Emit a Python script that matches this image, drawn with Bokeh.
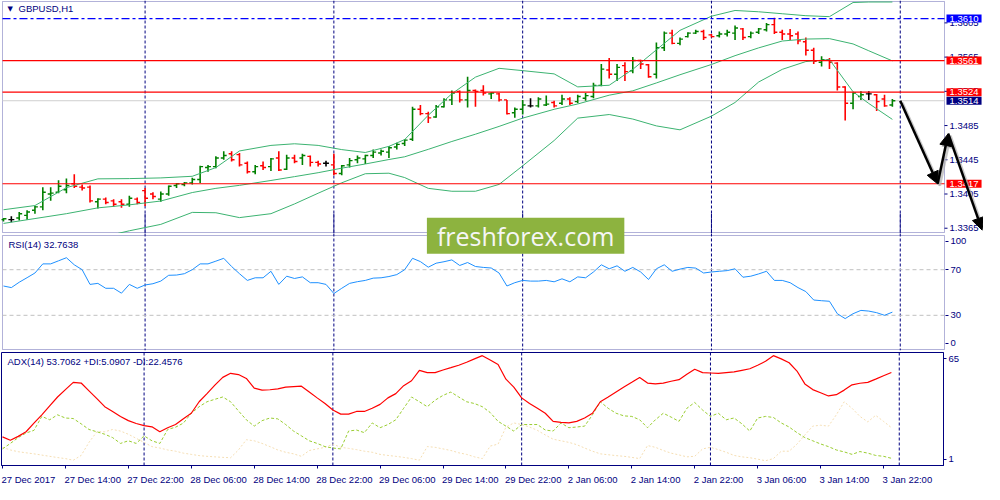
from bokeh.plotting import figure
from bokeh.models import (Range1d, FixedTicker, Span, Label, Arrow, NormalHead, BoxAnnotation,
                          ColumnDataSource, CustomJSTickFormatter)
from bokeh.layouts import column
from bokeh.transform import dodge
from bokeh.embed import file_html
from bokeh.resources import INLINE
from bokeh.core.properties import value

# ---------------- data (GBPUSD H1) ----------------
bar_open = [1.3375,1.3375,1.3377,1.3380,1.3386,1.3390,1.3405,1.3407,1.3410,1.3417,
            1.3413,1.3413,1.3396,1.3399,1.3397,1.3396,1.3393,1.3399,1.3409,1.3405,
            1.3399,1.3405,1.3415,1.3416,1.3418,1.3422,1.3436,1.3437,1.3447,1.3452,
            1.3451,1.3441,1.3431,1.3438,1.3437,1.3447,1.3434,1.3447,1.3447,1.3449,
            1.3442,1.3441,1.3439,1.3429,1.3439,1.3445,1.3446,1.3450,1.3453,1.3454,
            1.3460,1.3464,1.3469,1.3504,1.3499,1.3495,1.3507,1.3515,1.3525,1.3515,
            1.3526,1.3526,1.3522,1.3522,1.3515,1.3500,1.3504,1.3508,1.3508,1.3509,
            1.3512,1.3511,1.3516,1.3513,1.3517,1.3519,1.3532,1.3550,1.3545,1.3555,
            1.3549,1.3561,1.3556,1.3545,1.3576,1.3593,1.3581,1.3589,1.3593,1.3595,
            1.3591,1.3590,1.3592,1.3593,1.3598,1.3589,1.3594,1.3597,1.3603,1.3594,
            1.3592,1.3592,1.3583,1.3573,1.3559,1.3562,1.3558,1.3530,1.3511,1.3519,
            1.3522,1.3521,1.3516,1.3509]
bar_high = [1.3377,1.3379,1.3384,1.3386,1.3391,1.3413,1.3413,1.3421,1.3423,1.3428,
            1.3416,1.3415,1.3400,1.3401,1.3399,1.3399,1.3403,1.3401,1.3412,1.3407,
            1.3408,1.3415,1.3418,1.3419,1.3424,1.3438,1.3439,1.3449,1.3455,1.3455,
            1.3453,1.3443,1.3439,1.3443,1.3447,1.3455,1.3451,1.3451,1.3452,1.3450,
            1.3444,1.3444,1.3452,1.3439,1.3447,1.3450,1.3451,1.3457,1.3457,1.3461,
            1.3465,1.3469,1.3507,1.3509,1.3501,1.3509,1.3517,1.3526,1.3526,1.3542,
            1.3527,1.3532,1.3524,1.3523,1.3515,1.3506,1.3515,1.3517,1.3518,1.3520,
            1.3514,1.3521,1.3518,1.3521,1.3523,1.3535,1.3557,1.3564,1.3557,1.3559,
            1.3565,1.3562,1.3557,1.3582,1.3595,1.3597,1.3588,1.3594,1.3597,1.3597,
            1.3592,1.3595,1.3597,1.3602,1.3599,1.3595,1.3599,1.3605,1.3611,1.3597,
            1.3598,1.3595,1.3588,1.3576,1.3566,1.3564,1.3559,1.3531,1.3524,1.3525,
            1.3525,1.3522,1.3521,1.3516]
bar_low = [1.3373,1.3372,1.3374,1.3375,1.3382,1.3386,1.3397,1.3406,1.3406,1.3412,
           1.3409,1.3395,1.3388,1.3393,1.3390,1.3389,1.3390,1.3393,1.3391,1.3399,
           1.3396,1.3403,1.3412,1.3414,1.3416,1.3418,1.3431,1.3435,1.3445,1.3443,
           1.3437,1.3429,1.3428,1.3433,1.3432,1.3432,1.3433,1.3441,1.3439,1.3437,
           1.3437,1.3437,1.3427,1.3427,1.3436,1.3441,1.3440,1.3447,1.3450,1.3447,
           1.3457,1.3461,1.3467,1.3497,1.3488,1.3494,1.3506,1.3509,1.3512,1.3506,
           1.3507,1.3520,1.3516,1.3513,1.3498,1.3494,1.3498,1.3506,1.3506,1.3508,
           1.3506,1.3509,1.3509,1.3511,1.3514,1.3517,1.3531,1.3540,1.3537,1.3537,
           1.3546,1.3551,1.3541,1.3540,1.3572,1.3580,1.3579,1.3588,1.3592,1.3585,
           1.3588,1.3588,1.3589,1.3585,1.3585,1.3587,1.3592,1.3595,1.3592,1.3585,
           1.3585,1.3580,1.3567,1.3557,1.3554,1.3551,1.3526,1.3491,1.3504,1.3515,
           1.3515,1.3502,1.3507,1.3507]
bar_close = [1.3376,1.3375,1.3382,1.3384,1.3390,1.3407,1.3406,1.3414,1.3415,1.3414,
             1.3412,1.3397,1.3399,1.3395,1.3393,1.3393,1.3400,1.3395,1.3400,1.3402,
             1.3405,1.3414,1.3417,1.3418,1.3422,1.3437,1.3437,1.3447,1.3450,1.3445,
             1.3439,1.3431,1.3437,1.3436,1.3446,1.3433,1.3447,1.3443,1.3450,1.3442,
             1.3440,1.3441,1.3429,1.3438,1.3444,1.3447,1.3450,1.3454,1.3455,1.3459,
             1.3463,1.3468,1.3504,1.3499,1.3494,1.3507,1.3515,1.3523,1.3515,1.3526,
             1.3525,1.3523,1.3523,1.3515,1.3499,1.3504,1.3509,1.3508,1.3516,1.3510,
             1.3508,1.3516,1.3511,1.3519,1.3520,1.3532,1.3551,1.3545,1.3553,1.3548,
             1.3561,1.3557,1.3542,1.3576,1.3593,1.3581,1.3586,1.3593,1.3595,1.3588,
             1.3589,1.3592,1.3594,1.3599,1.3588,1.3593,1.3598,1.3603,1.3594,1.3592,
             1.3590,1.3584,1.3573,1.3560,1.3562,1.3559,1.3530,1.3511,1.3523,1.3521,
             1.3522,1.3513,1.3508,1.3514]

# Bollinger bands, read at these bar numbers
bb_index = [0,4,8,12,16,20,24,27,30,34,37,40,43,46,49,51,54,57,60,63,
            66,70,73,77,80,83,86,90,93,96,99,102,105,108,110,113]
bb_upper = [1.33866,1.33915,1.34124,1.34227,1.34230,1.34238,1.34257,1.34359,1.34553,1.34618,
            1.34637,1.34618,1.34569,1.34535,1.34607,1.34686,1.34971,1.35222,1.35416,1.35519,
            1.35492,1.35454,1.35302,1.35321,1.35507,1.35735,1.35963,1.36128,1.36195,1.36180,
            1.36157,1.36134,1.36123,1.36288,1.36294,1.36294]
bb_middle = [1.33706,1.33763,1.33820,1.33888,1.33923,1.33968,1.34067,1.34116,1.34151,1.34208,
             1.34253,1.34299,1.34352,1.34401,1.34453,1.34485,1.34572,1.34664,1.34749,1.34840,
             1.34937,1.35040,1.35102,1.35205,1.35256,1.35348,1.35444,1.35564,1.35667,1.35758,
             1.35838,1.35861,1.35866,1.35804,1.35724,1.35606]
bb_lower = [1.33307,1.33387,1.33455,1.33535,1.33620,1.33695,1.33835,1.33831,1.33774,1.33820,
            1.33934,1.34059,1.34181,1.34287,1.34293,1.34242,1.34116,1.34082,1.34082,1.34162,
            1.34379,1.34675,1.34937,1.34979,1.34926,1.34846,1.34800,1.34960,1.35120,1.35359,
            1.35507,1.35598,1.35621,1.35245,1.35108,1.34922]

rsi_values = [55.7,54.3,59.0,63.0,67.1,75.1,75.1,77.8,80.5,74.3,
              70.0,57.1,58.0,53.7,53.7,49.4,57.1,53.7,56.6,57.7,
              60.0,65.1,65.3,66.5,70.0,75.1,75.1,77.5,80.0,72.8,
              66.5,60.6,62.9,62.9,68.6,57.1,64.3,62.3,63.7,58.6,
              58.6,57.1,49.1,53.7,58.0,59.5,60.6,62.6,62.9,64.0,
              65.7,70.0,80.0,77.1,72.2,75.7,77.0,78.6,73.7,76.3,
              72.8,72.0,71.5,67.1,55.7,58.6,60.6,60.0,60.0,60.6,
              59.4,62.0,59.4,63.7,62.9,68.0,74.3,70.8,73.4,68.6,
              72.0,68.0,61.4,70.8,74.3,68.6,70.5,72.0,71.4,67.1,
              68.0,68.6,69.2,70.8,63.4,64.3,66.3,68.6,60.6,60.6,
              58.6,54.3,50.8,43.4,42.8,42.3,31.4,27.1,31.4,34.3,
              33.7,32.3,30.0,32.76]
adx_values = [17.2,15.3,17.5,20.1,25.0,29.7,34.8,39.8,44.0,48.1,
              47.7,43.3,38.9,34.3,31.6,28.8,26.4,24.8,23.6,22.9,
              20.1,22.4,24.2,27.5,30.6,37.1,41.7,46.5,50.9,53.2,
              52.5,50.3,44.8,43.7,43.9,44.4,45.4,45.7,45.9,42.6,
              39.3,36.1,32.4,30.1,30.1,31.6,31.6,33.4,35.6,39.3,
              41.7,46.2,49.0,54.9,53.6,53.6,55.1,56.4,57.8,59.5,
              61.4,63.2,60.8,58.2,49.9,45.4,39.3,36.1,33.4,30.6,
              26.0,25.4,25.1,26.0,27.9,30.6,37.1,39.8,42.6,45.4,
              48.1,50.9,47.7,47.2,47.7,48.7,49.6,52.7,55.5,53.6,
              53.4,53.2,53.6,54.0,54.9,55.8,57.8,60.0,63.2,61.4,
              59.2,54.5,47.2,44.0,42.2,40.4,41.1,43.7,46.7,47.6,
              48.1,49.9,51.8,53.7062]
plus_di = [10.4,13.5,16.8,19.4,20.9,28.8,26.9,29.7,27.9,27.6,
           24.6,21.4,20.1,18.7,16.8,13.5,15.0,13.5,17.8,15.0,
           13.5,21.4,22.7,25.0,30.6,34.3,37.1,38.5,39.8,37.1,
           31.9,26.9,23.3,26.4,27.9,27.4,24.2,20.5,17.8,15.0,
           13.5,11.7,10.9,10.4,20.5,21.1,19.6,25.1,22.4,24.2,
           26.9,33.4,39.8,37.1,34.3,38.0,40.7,42.6,39.8,37.1,
           36.1,34.3,31.0,26.0,23.3,20.5,24.2,24.2,24.2,21.1,
           20.5,25.1,22.4,22.8,23.3,29.7,37.1,33.4,30.6,29.1,
           28.8,26.9,22.4,26.9,30.6,28.4,26.0,33.4,36.7,32.4,
           28.8,30.6,26.9,27.9,24.6,20.5,27.9,28.8,28.2,25.1,
           22.8,19.6,16.8,15.0,13.2,11.7,9.8,8.7,7.3,8.9,
           8.0,6.7,6.2,5.0907]
minus_di = [11.3,9.8,8.8,8.2,7.6,6.9,6.2,5.5,4.9,4.0,
            6.7,14.1,20.1,20.1,21.4,20.5,18.7,16.4,14.1,11.7,
            10.9,9.8,9.1,8.0,7.3,6.6,6.2,5.9,5.6,5.4,
            9.8,15.6,15.0,13.5,11.7,9.8,8.5,7.6,6.2,9.5,
            10.4,11.3,13.1,11.3,10.7,10.0,9.1,8.5,7.3,6.7,
            6.2,5.6,4.9,4.0,11.7,11.3,10.4,9.5,8.2,7.3,
            5.9,4.9,12.0,13.1,22.7,25.1,24.2,22.8,20.9,18.3,
            15.9,15.0,14.1,12.8,10.9,9.1,7.6,7.1,6.6,6.2,
            5.6,4.9,12.3,11.3,9.5,8.0,7.0,5.9,6.2,10.4,
            11.3,10.0,8.5,6.7,5.9,5.4,4.6,3.7,4.9,9.1,
            9.1,13.1,18.3,23.3,23.8,23.3,29.7,37.1,33.4,28.8,
            25.7,29.4,26.0,22.4576]

level_lines = [1.3561, 1.3524, 1.3417]
marked_level = 1.3610
bid_price = 1.3514
price_ticks = [1.3365, 1.3405, 1.3445, 1.3485, 1.3525, 1.3565, 1.3605]
marker_prices = [1.3610, 1.3561, 1.3524, 1.3514, 1.3417]
day_breaks = [18, 42, 66, 90, 114]
time_tick_bars = [0, 8, 16, 24, 32, 40, 48, 56, 64, 72, 80, 88, 96, 104, 112]
time_tick_labels = ["27 Dec 2017", "27 Dec 14:00", "27 Dec 22:00", "28 Dec 06:00",
                    "28 Dec 14:00", "28 Dec 22:00", "29 Dec 06:00", "29 Dec 14:00",
                    "29 Dec 22:00", "2 Jan 06:00", "2 Jan 14:00", "2 Jan 22:00",
                    "3 Jan 06:00", "3 Jan 14:00", "3 Jan 22:00"]
rsi_levels = [70, 30]
rsi_axis_labels = ["100", "70", "30", "0"]
adx_axis_labels = ["65", "1"]
forecast_bars = [114, 118.75, 120.1, 124.4]
forecast_prices = [1.3514, 1.3417, 1.34755, 1.3363]

# ---------------- styling / layout ----------------
FONT = "Liberation Sans"
FS = "9.5px"
NAVY = "#000080"
X_START, X_END = -0.125, 119.625          # chart area in bar units
PPB = 942 / (X_END - X_START)             # pixels per bar
PX = 1.0 / PPB                            # one pixel in bar units
P_LO, P_HI = 1.3360, 1.3630               # price at bottom / top border
MAIN_H = 231
MAIN_PX = (P_HI - P_LO) / MAIN_H          # one pixel in price units
RSI_H = 114
EXT = 22                                  # RSI canvas reaches up over the main panel (watermark)

# MT4 draws edge labels inside the panel; these are the label anchor values
rsi_axis_pos = [94.8, 70, 30, 5.7]
adx_axis_pos = [61.4, 4.5]

# x labels are left-aligned at their tick in MT4: centre them half a label width right
CW = {" ": 0.278, ":": 0.278, "D": 0.722, "e": 0.556, "c": 0.5, "J": 0.5, "a": 0.556, "n": 0.556}
def text_w(s, fs=9.5):
    return sum(CW.get(ch, 0.556) for ch in s) * fs
label_centers = [round(b + (text_w(t) / 2 - 1) / PPB, 3) for b, t in zip(time_tick_bars, time_tick_labels)]


def lookup_formatter(pos, labels):
    return CustomJSTickFormatter(args=dict(pos=pos, labels=labels), code="""
        let best = 0, bd = 1e9;
        for (let k = 0; k < pos.length; k++) {
            const d = Math.abs(pos[k] - tick);
            if (d < bd) { bd = d; best = k; }
        }
        return labels[best];
    """)


def style_right_axis(p, line=True):
    ax = p.yaxis[0]
    ax.axis_line_color = NAVY if line else None
    ax.major_tick_line_color = NAVY
    ax.major_tick_out = 3
    ax.major_tick_in = 0
    ax.minor_tick_line_color = None
    ax.major_label_standoff = 2
    ax.major_label_text_font = FONT
    ax.major_label_text_font_size = FS
    ax.major_label_text_color = NAVY


def add_breaks(p):
    for b in day_breaks:
        p.add_layout(Span(location=b, dimension="height", line_color=NAVY,
                          line_dash="3 2", line_width=1, level="underlay"))


# ---------------- main price panel (frame also covers the price scale) ----------------
pm = figure(frame_width=983, frame_height=MAIN_H + 2,
            x_range=Range1d(X_START - PX, X_START - PX + 983 * PX),
            y_range=Range1d(P_LO - MAIN_PX, P_HI + MAIN_PX),
            x_axis_location=None, y_axis_location=None,
            output_backend="svg", toolbar_location=None, min_border=0,
            background_fill_color="white", border_fill_color="white")
pm.outline_line_color = None
pm.xgrid.visible = False
pm.ygrid.visible = False
pm.add_layout(BoxAnnotation(left=X_START, right=X_END, bottom=P_LO, top=P_HI,
                            fill_color=None, line_color=NAVY, line_width=1, level="underlay"))
add_breaks(pm)

# horizontal objects, drawn across the chart area only
pm.segment(x0=[X_START], x1=[X_END], y0=[bid_price], y1=[bid_price], line_color="#cfcfcf", line_width=1)

idx = list(range(len(bar_open)))
bar_color = ["#008000" if c > o else ("#ff0000" if c < o else "#000000")
             for o, c in zip(bar_open, bar_close)]
src = ColumnDataSource(dict(x=idx, o=bar_open, h=bar_high, l=bar_low, c=bar_close, color=bar_color))
pm.segment(x0="x", y0="l", x1="x", y1="h", source=src, line_color="color", line_width=1.6)
pm.segment(x0=dodge("x", -0.375), y0="o", x1="x", y1="o", source=src, line_color="color", line_width=1.4)
pm.segment(x0="x", y0="c", x1=dodge("x", 0.375), y1="c", source=src, line_color="color", line_width=1.4)

for band in (bb_upper, bb_middle, bb_lower):
    pm.line(bb_index, band, line_color="#3cb371", line_width=1)

n_lv = len(level_lines)
pm.segment(x0=[X_START] * n_lv, x1=[X_END] * n_lv, y0=level_lines, y1=level_lines,
           line_color="#ff0000", line_width=1.2)
pm.segment(x0=[X_START], x1=[X_END], y0=[marked_level], y1=[marked_level],
           line_color="#0000ff", line_dash="8 3 3 3", line_width=1.2)

# price scale (right side of the main panel)
n_t = len(price_ticks)
pm.segment(x0=[X_END] * n_t, x1=[X_END + 3 * PX] * n_t, y0=price_ticks, y1=price_ticks,
           line_color=NAVY, line_width=1)
pm.text(x=[X_END] * n_t, y=price_ticks, text=[f"{t:.4f}" for t in price_ticks],
        x_offset=5, text_align="left", text_baseline="middle",
        text_font=value(FONT), text_font_size=FS, text_color=NAVY)

marker_fill = ["#0000ff", "#ff0000", "#ff0000", "#000080", "#ff0000"]
for pr, fc in zip(marker_prices, marker_fill):
    pm.add_layout(Label(x=X_END, y=pr, x_offset=2, text=f"{pr:.4f}", text_color="white",
                        text_font=FONT, text_font_size=FS, text_baseline="middle",
                        text_align="left", background_fill_color=fc, padding=(3, 1),
                        level="overlay"))

# forecast arrows with a soft grey shadow (shadow shifted 2px right / 2px down)
shadow_src = ColumnDataSource(dict(x0=[b + 2 * PX for b in forecast_bars[:-1]],
                                   y0=[p - 2 * MAIN_PX for p in forecast_prices[:-1]],
                                   x1=[b + 2 * PX for b in forecast_bars[1:]],
                                   y1=[p - 2 * MAIN_PX for p in forecast_prices[1:]]))
pm.add_layout(Arrow(end=NormalHead(size=12, fill_color="#b0b0b0", line_color="#b0b0b0", fill_alpha=0.7,
                                   line_alpha=0.7),
                    x_start="x0", y_start="y0", x_end="x1", y_end="y1", source=shadow_src,
                    line_width=3, line_color="#b0b0b0", line_alpha=0.7, level="overlay"))
arrow_src = ColumnDataSource(dict(x0=forecast_bars[:-1], y0=forecast_prices[:-1],
                                  x1=forecast_bars[1:], y1=forecast_prices[1:]))
pm.add_layout(Arrow(end=NormalHead(size=12, fill_color="#000000", line_color="#000000"),
                    x_start="x0", y_start="y0", x_end="x1", y_end="y1", source=arrow_src,
                    line_width=2.5, line_color="#000000", level="overlay"))

pm.add_layout(Label(x=X_START, y=P_HI, x_offset=5, y_offset=-7, text="▼", text_color=NAVY,
                    text_font="DejaVu Sans", text_font_size="7px", text_baseline="middle"))
pm.add_layout(Label(x=X_START, y=P_HI, x_offset=16, y_offset=-7, text="GBPUSD,H1", text_color=NAVY,
                    text_font=FONT, text_font_size=FS, text_baseline="middle"))

# ---------------- RSI panel (transparent top part overlaps the main panel) ----------------
RSI_PX = RSI_H / 100.0
pr_ = figure(frame_width=944, frame_height=EXT + RSI_H + 1,
             x_range=Range1d(X_START - PX, X_END + PX),
             y_range=Range1d(-1 / RSI_PX, 100 + EXT / RSI_PX),
             x_axis_location=None, y_axis_location="right",
             output_backend="svg", toolbar_location=None,
             min_border_left=0, min_border_right=39, min_border_top=0, min_border_bottom=1,
             background_fill_color=None, border_fill_color=None)
pr_.margin = (2 - EXT, 0, 0, 0)
pr_.outline_line_color = None
pr_.xgrid.visible = False
pr_.ygrid.visible = False
style_right_axis(pr_, line=False)
pr_.add_layout(BoxAnnotation(left=X_START, right=X_END, bottom=0, top=100, fill_color="white",
                             fill_alpha=1.0, line_color=NAVY, line_width=1, level="underlay"))
add_breaks(pr_)
pr_.yaxis.ticker = FixedTicker(ticks=rsi_axis_pos)
pr_.yaxis.formatter = lookup_formatter(rsi_axis_pos, rsi_axis_labels)
n_r = len(rsi_levels)
pr_.segment(x0=[X_START] * n_r, x1=[X_END] * n_r, y0=rsi_levels, y1=rsi_levels,
            line_color="#c0c0c0", line_dash="4 3", line_width=1)
pr_.line(idx, rsi_values, line_color="#1e90ff", line_width=1)
pr_.add_layout(Label(x=X_START, y=100, x_offset=6, y_offset=-9, text="RSI(14) 32.7638",
                     text_color=NAVY, text_font=FONT, text_font_size=FS, text_baseline="middle"))
pr_.add_layout(Label(x=66.375, y=100, y_offset=-0.3, text="freshforex.com", text_color="#f6f6f6",
                     text_font="Open Sans", text_font_size="25px", text_align="center",
                     text_baseline="middle", background_fill_color="#8db33f",
                     padding=(10, 1), level="overlay"))

# ---------------- ADX panel ----------------
pa = figure(frame_width=942, frame_height=113, x_range=Range1d(X_START, X_END), y_range=Range1d(1, 65),
            x_axis_location="below", y_axis_location="right",
            output_backend="svg", toolbar_location=None,
            min_border_left=1, min_border_right=40, min_border_top=1, min_border_bottom=19,
            background_fill_color="white", border_fill_color="white")
pa.outline_line_color = NAVY
pa.xgrid.visible = False
pa.ygrid.visible = False
style_right_axis(pa)
add_breaks(pa)
pa.yaxis.ticker = FixedTicker(ticks=adx_axis_pos)
pa.yaxis.formatter = lookup_formatter(adx_axis_pos, adx_axis_labels)
pa.line(idx, minus_di, line_color="#f5deb3", line_width=1, line_dash="2 2")
pa.line(idx, plus_di, line_color="#9acd32", line_width=1, line_dash="3 2")
pa.line(idx, adx_values, line_color="#ff0000", line_width=1.2)
pa.add_layout(Label(x=X_START, y=65, x_offset=6, y_offset=-9,
                    text="ADX(14) 53.7062 +DI:5.0907 -DI:22.4576",
                    text_color=NAVY, text_font=FONT, text_font_size=FS, text_baseline="middle"))

xa = pa.xaxis[0]
xa.ticker = FixedTicker(ticks=label_centers, minor_ticks=time_tick_bars)
xa.formatter = lookup_formatter(label_centers, time_tick_labels)
xa.axis_line_color = NAVY
xa.major_tick_line_color = None
xa.major_tick_out = 0
xa.major_tick_in = 0
xa.minor_tick_line_color = NAVY
xa.minor_tick_out = 3
xa.minor_tick_in = 0
xa.major_label_standoff = 5
xa.major_label_text_font = FONT
xa.major_label_text_font_size = FS
xa.major_label_text_color = NAVY

layout = column(pm, pr_, pa, spacing=0)
open("out.html", "w").write(file_html(layout, INLINE))
